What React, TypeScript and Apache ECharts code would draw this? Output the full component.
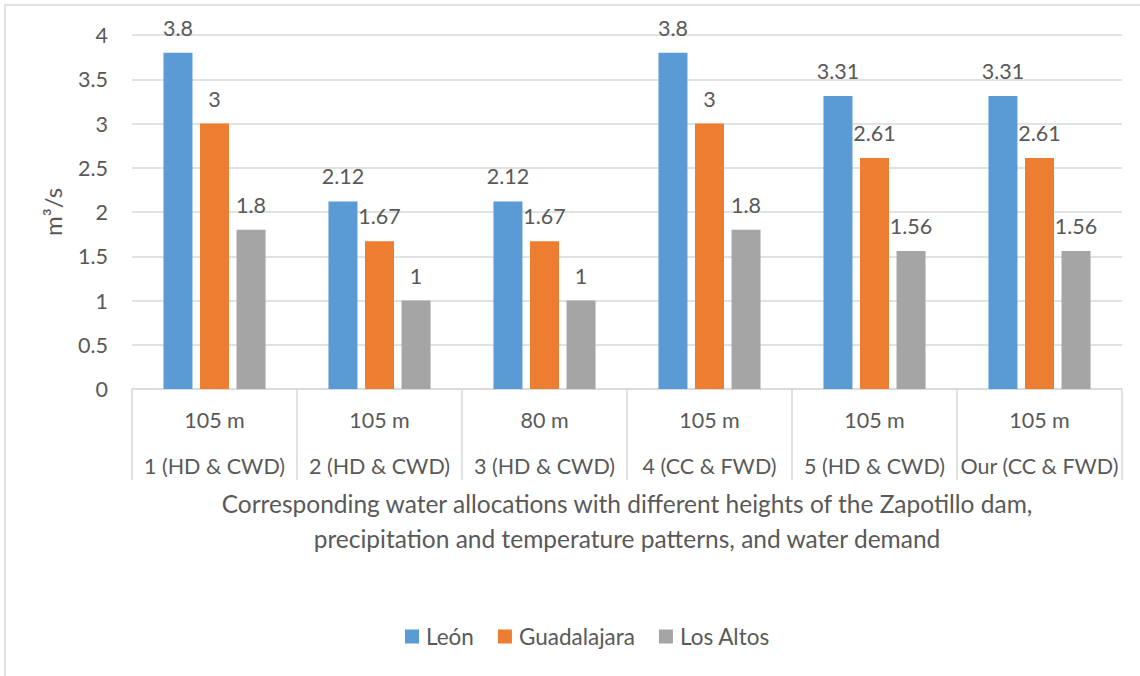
import React, { useEffect, useRef } from "react";
import * as echarts from "echarts";

const heights = ["105 m", "105 m", "80 m", "105 m", "105 m", "105 m"];
const scenarios = ["1 (HD & CWD)", "2 (HD & CWD)", "3 (HD & CWD)", "4 (CC & FWD)", "5 (HD & CWD)", "Our (CC & FWD)"];
const leon = [3.8, 2.12, 2.12, 3.8, 3.31, 3.31];
const guadalajara = [3, 1.67, 1.67, 3, 2.61, 2.61];
const losAltos = [1.8, 1, 1, 1.8, 1.56, 1.56];
const seriesNames = ["León", "Guadalajara", "Los Altos"];
const colors = ["#5b9bd5", "#ed7d31", "#a5a5a5"];
const xTitle = "Corresponding water allocations with different heights of the Zapotillo dam,\nprecipitation and temperature patterns, and water demand";

const FONT = "Lato, 'Open Sans', sans-serif";
const TXT = "#595959";

export default function App() {
  const ref = useRef<HTMLDivElement>(null);
  useEffect(() => {
    if (!ref.current) return;
    const chart = echarts.init(ref.current, undefined, { renderer: "svg" });
    const categories = heights.map((h, i) => `${h}\n${scenarios[i]}`);
    const dataSets = [leon, guadalajara, losAltos];
    chart.setOption({
      animation: false,
      textStyle: { fontFamily: FONT, color: TXT },
      color: colors,
      graphic: [
        {
          type: "rect",
          shape: { x: 5, y: 5, width: 1200, height: 700 },
          style: { fill: "none", stroke: "#d9d9d9", lineWidth: 1.5 },
          silent: true,
        },
        {
          type: "text",
          x: 627,
          y: 521,
          silent: true,
          style: {
            text: xTitle,
            align: "center",
            verticalAlign: "middle",
            fontFamily: FONT,
            fontSize: 24.5,
            lineHeight: 35,
            fill: TXT,
          },
        },
      ],
      legend: {
        top: 620,
        left: 400,
        itemWidth: 14,
        itemHeight: 14,
        itemGap: 24,
        icon: "rect",
        textStyle: { fontFamily: FONT, fontSize: 22.5, color: TXT, padding: [0, 0, 0, 2] },
        data: seriesNames,
      },
      grid: { left: 132, right: 18, top: 35, bottom: 287, containLabel: false },
      xAxis: {
        type: "category",
        data: categories,
        axisLine: { lineStyle: { color: "#d9d9d9", width: 1.5 } },
        axisTick: { show: true, length: 91, lineStyle: { color: "#d9d9d9", width: 1.5 } },
        axisLabel: {
          margin: 8,
          fontFamily: FONT,
          fontSize: 21.5,
          color: TXT,
          lineHeight: 46,
          interval: 0,
        },
      },
      yAxis: {
        type: "value",
        min: 0,
        max: 4,
        interval: 0.5,
        axisLine: { show: false },
        axisTick: { show: false },
        axisLabel: { margin: 24, fontFamily: FONT, fontSize: 21.5, color: TXT },
        splitLine: { lineStyle: { color: "#d9d9d9", width: 1.5 } },
        name: "m³/s",
        nameLocation: "middle",
        nameGap: 68,
        nameRotate: 90,
        nameTextStyle: { fontFamily: FONT, fontSize: 24, color: TXT },
      },
      series: dataSets.map((d, i) => ({
        name: seriesNames[i],
        type: "bar",
        data: d,
        barWidth: 29,
        barGap: "26%",
        itemStyle: { color: colors[i] },
        label: {
          show: true,
          position: "top",
          distance: 14,
          fontFamily: FONT,
          fontSize: 21.5,
          color: TXT,
        },
      })),
    });
    return () => chart.dispose();
  }, []);
  return (
    <div
      ref={ref}
      style={{ position: "fixed", left: 0, top: 0, width: 1140, height: 676, background: "#fff" }}
    />
  );
}
